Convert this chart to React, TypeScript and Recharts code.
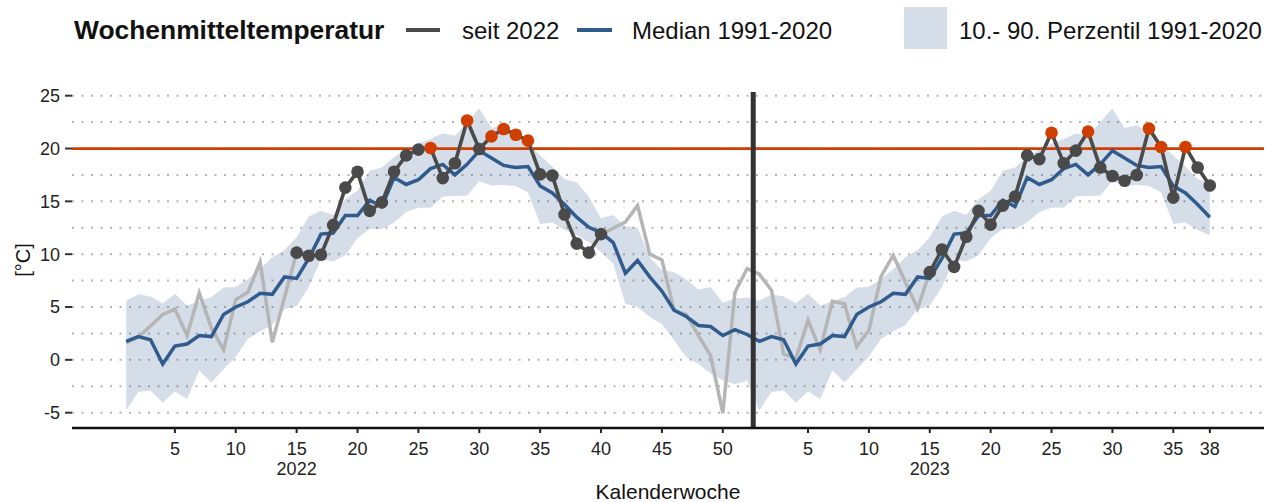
import { Area, CartesianGrid, ComposedChart, Line, ReferenceLine, XAxis, YAxis } from 'recharts'

// Wochenmittel 2022 (KW 1-52) und 2023 (KW 1-38), °C
const temp2022 = [
  1.6, 2.15, 3.2, 4.3, 4.8, 2.3, 6.35, 3.0, 0.95, 5.7, 6.4, 9.25, 1.65, 5.9, 10.15, 9.85, 9.95, 12.75, 16.3, 17.8,
  14.1, 14.9, 17.8, 19.35, 19.9, 20.05, 17.2, 18.6, 22.65, 19.95, 21.15, 21.85, 21.3, 20.75, 17.55, 17.45, 13.75,
  11.0, 10.15, 11.9, 12.45, 13.05, 14.6, 10.0, 9.45, 4.7, 4.3, 2.3, 0.4, -5.05, 6.4, 8.65,
]
const temp2023 = [
  8.1, 6.6, 0.55, 0.1, 3.75, 0.95, 5.55, 5.3, 1.25, 2.8, 7.9, 9.9, 7.35, 4.85, 8.3, 10.45, 8.8, 11.65, 14.1, 12.8,
  14.6, 15.45, 19.35, 19.0, 21.5, 18.6, 19.8, 21.6, 18.2, 17.4, 16.95, 17.5, 21.9, 20.15, 15.35, 20.15, 18.2, 16.5,
]

// Klimatologie 1991-2020 je Kalenderwoche
const median = [
  1.75, 2.2, 1.9, -0.4, 1.3, 1.5, 2.3, 2.2, 4.3, 5.0, 5.5, 6.3, 6.2, 7.85, 7.7, 9.6, 11.9, 12.0, 13.65, 13.65, 15.1,
  14.5, 17.25, 16.6, 17.05, 18.1, 18.5, 17.5, 18.5, 19.8, 19.1, 18.4, 18.2, 18.3, 16.45, 15.8, 14.7, 13.5, 12.55,
  12.05, 11.1, 8.2, 9.4, 7.85, 6.5, 4.7, 4.1, 3.25, 3.15, 2.3, 2.85, 2.4,
]
const p10 = [
  -4.8, -3.05, -2.9, -4.05, -3.0, -3.7, -1.0, -2.15, -0.9, 0.3, 2.0, 2.7, 3.3, 4.8, 5.1, 6.9, 9.5, 9.3, 9.9, 11.5,
  12.4, 12.35, 13.0, 14.0, 14.4, 14.4, 15.45, 15.5, 15.55, 16.9, 16.5, 16.55, 16.45, 15.85, 12.85, 13.0, 12.3, 11.8,
  11.15, 10.2, 9.1, 5.3, 5.0, 4.05, 3.4, 1.85, 0.25, -0.4, -1.3, -1.95, -2.3, -1.95,
]
const p90 = [
  5.6, 6.2, 6.0, 5.35, 6.25, 5.15, 5.55, 5.95, 6.85, 6.9, 7.65, 8.6, 9.7, 10.4, 11.6, 13.6, 14.1, 13.7, 15.2, 16.0,
  17.9, 18.2, 19.2, 19.9, 20.5, 20.9, 21.45, 21.2, 22.5, 23.8, 21.95, 22.2, 21.5, 20.5, 19.35, 18.3, 17.1, 16.8,
  15.45, 13.4, 13.7, 12.65, 12.5, 9.7, 8.5, 8.3, 7.6, 6.65, 6.9, 5.4, 5.8, 5.9,
]

const xTicks = [5, 10, 15, 20, 25, 30, 35, 40, 45, 50, 57, 62, 67, 72, 77, 82, 87, 90]
const yearAt: Record<number, string> = { 15: '2022', 67: '2023' }
const yTicks = [-5, 0, 5, 10, 15, 20, 25]
const gridLevels = [-5, -2.5, 0, 2.5, 5, 7.5, 10, 12.5, 15, 17.5, 20, 22.5, 25]
const HEAT = 20
const YEAR_BREAK = 52.5

const RED = '#d13f00'
const DARK = '#4a4a4a'
const GREY = '#b5b5b5'
const BLUE = '#2f5b8e'
const FONT = '"Liberation Sans", Arial, sans-serif'

const weeks = [...temp2022, ...temp2023]
const data = weeks.map((t, i) => {
  const idx = i + 1
  const kw = idx > 52 ? idx - 52 : idx
  return {
    idx,
    band: [p10[kw - 1], p90[kw - 1]],
    median: median[kw - 1],
    temp: t,
    summer: kw >= 15 && kw <= 40 ? t : null,
  }
})

function WeekDot(props: any) {
  const { cx, cy, value, index } = props
  if (value == null || cx == null || cy == null) return <g key={index} />
  return <circle key={index} cx={cx} cy={cy} r={6.3} fill={value > HEAT ? RED : DARK} />
}

function WeekTick({ x, y, payload }: any) {
  const idx = payload.value
  const year = yearAt[idx]
  return (
    <g>
      <text x={x} y={y + 20} textAnchor="middle" fontSize={18} fill="#222" fontFamily={FONT}>
        {idx > 52 ? idx - 52 : idx}
      </text>
      {year && (
        <text x={x} y={y + 40} textAnchor="middle" fontSize={18} fill="#222" fontFamily={FONT}>
          {year}
        </text>
      )}
    </g>
  )
}

function LegendBar() {
  return (
    <svg width={1277} height={60} style={{ position: 'absolute', left: 0, top: 0 }} fontFamily={FONT}>
      <text x={74} y={39} fontSize={26.4} fontWeight="bold" fill="#111">Wochenmitteltemperatur</text>
      <line x1={406} x2={440} y1={30} y2={30} stroke={DARK} strokeWidth={4} />
      <text x={462} y={39} fontSize={24} fill="#111">seit 2022</text>
      <line x1={577} x2={612} y1={30} y2={30} stroke={BLUE} strokeWidth={4} />
      <text x={632} y={39} fontSize={24} fill="#111">Median 1991-2020</text>
      <rect x={904} y={7} width={43} height={42} fill={BLUE} fillOpacity={0.2} />
      <text x={959} y={39} fontSize={24} fill="#111">10.- 90. Perzentil 1991-2020</text>
    </svg>
  )
}

export default function App() {
  return (
    <div style={{ position: 'absolute', left: 0, top: 0, width: 1277, height: 502, background: '#fff', fontFamily: FONT }}>
      <LegendBar />
      <div style={{ position: 'absolute', left: 0, top: 0 }}>
        <ComposedChart width={1277} height={502} data={data} margin={{ top: 92, right: 13, left: 0, bottom: 0 }}>
          <CartesianGrid
            vertical={false}
            horizontalValues={gridLevels}
            stroke="#b5b5b5"
            strokeWidth={2}
            strokeDasharray="2 7.5"
          />
          <XAxis
            dataKey="idx"
            type="number"
            domain={[-3.45, 94.45]}
            ticks={xTicks}
            interval={0}
            height={74}
            tick={<WeekTick />}
            tickSize={5}
            tickLine={{ stroke: '#222', strokeWidth: 2 }}
            axisLine={{ stroke: '#111', strokeWidth: 2.5 }}
            allowDataOverflow
          />
          <YAxis
            type="number"
            domain={[-6.45, 25.35]}
            ticks={yTicks}
            width={72}
            tickSize={7}
            tickMargin={5}
            axisLine={false}
            tickLine={{ stroke: '#333', strokeWidth: 2 }}
            tick={{ fontSize: 18, fill: '#222', fontFamily: FONT }}
            allowDataOverflow
          />
          <Area dataKey="band" stroke="none" fill={BLUE} fillOpacity={0.2} isAnimationActive={false} />
          <ReferenceLine y={HEAT} stroke={RED} strokeWidth={2.7} />
          <Line dataKey="temp" stroke={GREY} strokeWidth={3.5} dot={false} isAnimationActive={false} />
          <Line dataKey="median" stroke={BLUE} strokeWidth={3.5} dot={false} isAnimationActive={false} />
          <Line
            dataKey="summer"
            stroke={DARK}
            strokeWidth={3.5}
            connectNulls={false}
            dot={WeekDot}
            activeDot={false}
            isAnimationActive={false}
          />
          <ReferenceLine x={YEAR_BREAK} stroke="#333" strokeWidth={5} />
        </ComposedChart>
      </div>
      <div
        style={{
          position: 'absolute',
          left: 23,
          top: 260,
          transform: 'translate(-50%, -50%) rotate(-90deg)',
          fontSize: 20,
          color: '#111',
          whiteSpace: 'nowrap',
        }}
      >
        [°C]
      </div>
      <div
        style={{
          position: 'absolute',
          left: 668,
          top: 492,
          transform: 'translate(-50%, -50%)',
          fontSize: 21,
          color: '#111',
          whiteSpace: 'nowrap',
        }}
      >
        Kalenderwoche
      </div>
    </div>
  )
}
